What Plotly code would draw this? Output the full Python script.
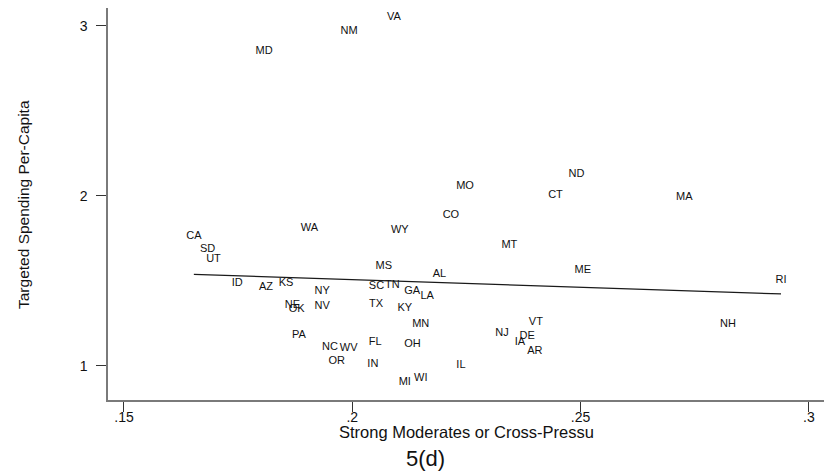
import plotly.graph_objects as go

# ---- data ----
states = ["VA", "NM", "MD", "ND", "MO", "CT", "MA", "CO", "MT", "ME", "RI", "AL",
          "CA", "WA", "WY", "SD", "UT", "MS", "ID", "AZ", "KS", "NY", "SC", "TN",
          "GA", "LA", "NE", "OK", "NV", "TX", "KY", "MN", "PA", "NC", "WV", "FL",
          "OH", "OR", "IN", "MI", "WI", "IL", "NJ", "VT", "DE", "IA", "AR", "NH"]
strong_moderates = [0.2091, 0.1993, 0.1807, 0.2491, 0.2247, 0.2445, 0.2727, 0.2216,
                    0.2344, 0.2505, 0.2939, 0.2191, 0.1653, 0.1906, 0.2104, 0.1683,
                    0.1696, 0.2069, 0.1748, 0.1811, 0.1855, 0.1934, 0.2053, 0.2088,
                    0.2131, 0.2164, 0.1869, 0.1878, 0.1934, 0.2052, 0.2115, 0.2150,
                    0.1883, 0.1951, 0.1992, 0.2050, 0.2132, 0.1966, 0.2045, 0.2115,
                    0.2150, 0.2238, 0.2328, 0.2402, 0.2383, 0.2367, 0.2400, 0.2823]
spending = [3.049, 2.965, 2.847, 2.128, 2.053, 2.004, 1.991, 1.885, 1.710, 1.561,
            1.502, 1.539, 1.763, 1.808, 1.794, 1.687, 1.628, 1.587, 1.485, 1.461,
            1.485, 1.439, 1.467, 1.473, 1.439, 1.408, 1.357, 1.332, 1.351, 1.361,
            1.338, 1.244, 1.179, 1.110, 1.104, 1.138, 1.128, 1.028, 1.010, 0.904,
            0.928, 1.002, 1.192, 1.257, 1.175, 1.135, 1.087, 1.245]
fit_x = [0.1653, 0.2939]
fit_y = [1.537, 1.422]
x_tick_vals = [0.15, 0.2, 0.25, 0.3]
x_tick_text = [".15", ".2", ".25", ".3"]
y_tick_vals = [1, 2, 3]
y_tick_text = ["1", "2", "3"]

FONT = "Liberation Sans, Arial, sans-serif"
TXT = "#111111"
AX = "#7a7a7a"

fig = go.Figure()
fig.add_trace(go.Scatter(
    x=strong_moderates, y=spending, text=states, mode="text",
    textposition="middle center",
    textfont=dict(family=FONT, size=11, color=TXT),
    showlegend=False, hoverinfo="text"))
fig.add_trace(go.Scatter(
    x=fit_x, y=fit_y, mode="lines",
    line=dict(color="#1a1a1a", width=1.2),
    showlegend=False, hoverinfo="skip"))

# page has an 8px body margin: figure origin sits at (8, 8) of the window
W, H = 824, 464
L, R, T, B = 100, 7, 0, 72
pw, ph = W - L - R, H - T - B

fig.update_layout(
    width=W, height=H,
    margin=dict(l=L, r=R, t=T, b=B, pad=0),
    paper_bgcolor="white", plot_bgcolor="white",
    font=dict(family=FONT, color=TXT),
    xaxis=dict(range=[0.14650, 0.30353], tickvals=x_tick_vals, ticktext=x_tick_text,
               showgrid=False, zeroline=False, showline=True, linecolor=AX, linewidth=1.5,
               ticks="outside", ticklen=10, tickcolor="#333333", tickwidth=1,
               ticklabelstandoff=-7,
               tickfont=dict(family=FONT, size=14, color=TXT)),
    yaxis=dict(range=[0.798, 3.104], tickvals=y_tick_vals, ticktext=y_tick_text,
               showgrid=False, zeroline=False, showline=True, linecolor=AX, linewidth=1.5,
               ticks="outside", ticklen=10, tickcolor="#333333", tickwidth=1,
               ticklabelstandoff=6,
               tickfont=dict(family=FONT, size=14, color=TXT)),
    annotations=[
        dict(text="Strong Moderates or Cross-Pressu", xref="paper", yref="paper",
             x=0.5, y=0, xanchor="center", yanchor="middle", yshift=-32,
             showarrow=False, font=dict(family=FONT, size=16.5, color=TXT)),
        dict(text="5(d)", xref="paper", yref="paper",
             x=(417 - L) / pw, y=0, xanchor="center", yanchor="middle", yshift=-58,
             showarrow=False, font=dict(family=FONT, size=22, color=TXT)),
        dict(text="Targeted Spending Per-Capita", xref="paper", yref="paper",
             x=0, y=(H - B - 197) / ph, xanchor="center", yanchor="middle",
             xshift=-(L - 15), textangle=-90,
             showarrow=False, font=dict(family=FONT, size=15.5, color=TXT)),
    ],
)

fig.write_html("out.html")
